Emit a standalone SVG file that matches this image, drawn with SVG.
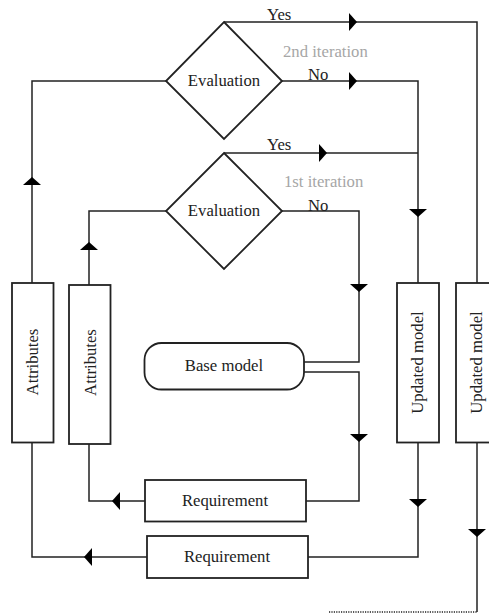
<svg xmlns="http://www.w3.org/2000/svg" width="489" height="613" viewBox="0 0 489 613">
<style>
  .ln{fill:none;stroke:#222;stroke-width:1.5}
  .bx{fill:#fff;stroke:#222;stroke-width:1.8}
  .ah{fill:#000}
  .t{font-family:"Liberation Serif","Times New Roman",serif;font-size:16.7px;fill:#222}
  .c{text-anchor:middle}
  .g{fill:#a6a6a6}
</style>
<rect width="489" height="613" fill="#fff"/>
<g id="connectors">
  <path class="ln" d="M224,22 H477 V283"/>
  <path class="ln" d="M477,443 V612"/>
  <path d="M329,612 H477" fill="none" stroke="#222" stroke-width="1.6" stroke-dasharray="1.2,1.2"/>
  <path class="ln" d="M282,81 H418 V283"/>
  <path class="ln" d="M224,153 H418"/>
  <path class="ln" d="M418,443 V557 H308"/>
  <path class="ln" d="M147,557 H32 V443"/>
  <path class="ln" d="M32,283 V81 H166"/>
  <path class="ln" d="M282,211 H359 V362 H304"/>
  <path class="ln" d="M304,372 H359 V501 H306"/>
  <path class="ln" d="M145,501 H89 V444"/>
  <path class="ln" d="M89,285 V211 H166"/>
  <polygon class="ah" points="357,22 349,13 349,31"/>
  <polygon class="ah" points="357,81 349,72 349,90"/>
  <polygon class="ah" points="327,153 319,144 319,162"/>
  <polygon class="ah" points="359,292 350,284 368,284"/>
  <polygon class="ah" points="418,217 409,209 427,209"/>
  <polygon class="ah" points="359,442 350,434 368,434"/>
  <polygon class="ah" points="418,507 409,499 427,499"/>
  <polygon class="ah" points="477,537 468,529 486,529"/>
  <polygon class="ah" points="32,177 23,185 41,185"/>
  <polygon class="ah" points="89,242 80,250 98,250"/>
  <polygon class="ah" points="112,501 120,492 120,510"/>
  <polygon class="ah" points="84,557 92,548 92,566"/>
  <text class="t" x="267" y="20">Yes</text>
  <text class="t g" x="283" y="57">2nd iteration</text>
  <text class="t" x="308" y="80">No</text>
  <text class="t" x="267" y="150">Yes</text>
  <text class="t g" x="284" y="186.5">1st iteration</text>
  <text class="t" x="308" y="210.5">No</text>
</g>
<g id="eval2">
  <polygon class="bx" points="224,22 282,81 224,139 166,81"/>
  <text class="t c" x="224" y="85.5">Evaluation</text>
</g>
<g id="eval1">
  <polygon class="bx" points="224,153 282,211 224,269 166,211"/>
  <text class="t c" x="224" y="215.5">Evaluation</text>
</g>
<g id="attributes1">
  <rect class="bx" x="12" y="283" width="41.5" height="159.5"/>
  <text class="t c" transform="translate(32.5,362) rotate(-90)" y="5.8">Attributes</text>
</g>
<g id="attributes2">
  <rect class="bx" x="69" y="285" width="41.5" height="159"/>
  <text class="t c" transform="translate(89.8,362.5) rotate(-90)" y="5.8">Attributes</text>
</g>
<g id="basemodel">
  <rect class="bx" x="144.5" y="343" width="159.5" height="46.5" rx="17"/>
  <text class="t c" x="224" y="371">Base model</text>
</g>
<g id="updated1">
  <rect class="bx" x="397" y="283" width="42" height="159.5"/>
  <text class="t c" transform="translate(418,362.5) rotate(-90)" y="4.8">Updated model</text>
</g>
<g id="updated2">
  <rect class="bx" x="456" y="283" width="42" height="159.5"/>
  <text class="t c" transform="translate(477,362.5) rotate(-90)" y="4.8">Updated model</text>
</g>
<g id="requirement1">
  <rect class="bx" x="145" y="480" width="161" height="41.5"/>
  <text class="t c" x="225" y="505.5">Requirement</text>
</g>
<g id="requirement2">
  <rect class="bx" x="147" y="536" width="161" height="42"/>
  <text class="t c" x="227" y="561.5">Requirement</text>
</g>
</svg>
